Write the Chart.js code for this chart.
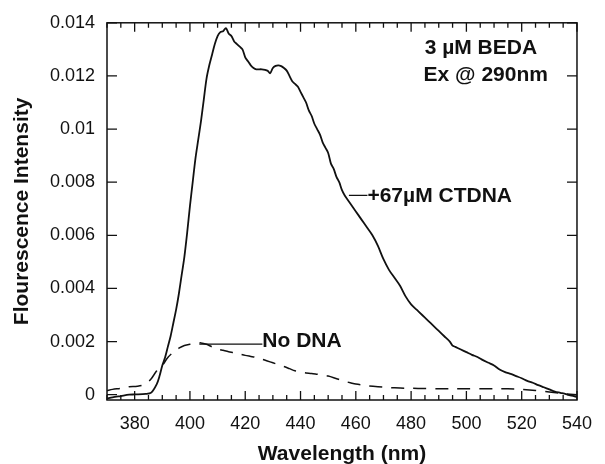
<!DOCTYPE html>
<html><head><meta charset="utf-8">
<script src="https://cdn.jsdelivr.net/npm/chart.js@4/dist/chart.umd.min.js"></script>
<style>html,body{margin:0;padding:0;overflow:hidden;background:#fff}canvas{display:block}</style>
</head><body>
<canvas id="c" width="605" height="470"></canvas>
<script>
// ---- data ----
const ctdnaWavelengths = [370,372,375,378,380,384,386,388,389,390,391,392,393,394,395,396,397,398,399,400,401,402,403,404,405,406,407,408,409,410,411,412,413,414,415,416,417,418,419,420,421,422,423,424,426,428,429,430,431,432,433,434,435,436,437,438,439,440,441,442,443,444,445,446,447,448,449,450,451,452,453,454,455,456,458,460,462,464,466,468,470,472,474,476,478,480,482,484,486,488,490,492,494,495,496,498,500,502,504,506,508,510,512,514,516,518,520,522,524,526,528,530,532,534,536,538,540];
const ctdnaIntensity = [-0.00015,-0.0001,-0.00005,0,0.00001,0.00003,0.00008,0.0004,0.0007,0.0011,0.0014,0.0018,0.0022,0.0027,0.0032,0.0038,0.0045,0.0052,0.0061,0.0071,0.0080,0.0089,0.0096,0.0103,0.0111,0.0119,0.0124,0.0128,0.0132,0.0135,0.01365,0.01368,0.0138,0.0136,0.0135,0.0133,0.0132,0.0131,0.0130,0.0127,0.01255,0.0124,0.0123,0.01225,0.01225,0.0122,0.0121,0.0123,0.01238,0.0124,0.01237,0.0123,0.0122,0.0120,0.0118,0.0117,0.0116,0.0114,0.0112,0.0110,0.0107,0.0105,0.0102,0.0100,0.0098,0.0095,0.0093,0.0091,0.0087,0.0085,0.0082,0.0080,0.0077,0.0075,0.0072,0.0069,0.0066,0.0063,0.0060,0.0056,0.0051,0.0047,0.0044,0.0041,0.0037,0.0034,0.0032,0.0030,0.0028,0.0026,0.0024,0.0022,0.0020,0.00185,0.0018,0.0017,0.0016,0.0015,0.00142,0.0013,0.0012,0.0011,0.00095,0.00085,0.00078,0.0007,0.00062,0.00052,0.00045,0.00036,0.00028,0.0002,0.00012,0.00007,0.00002,-0.00004,-0.00008];

const noDnaWavelengths = [370,372,375,378,381,384,386,388,390,392,394,396,398,400,402,404,406,408,410,412,414,416,418,420,422,424,426,428,430,432,434,436,438,440,442,444,446,448,450,452,454,456,458,460,464,468,472,476,480,485,490,495,500,505,510,515,520,525,530,535,540];
const noDnaIntensity = [0.00015,0.0002,0.00024,0.0003,0.00032,0.0004,0.0006,0.0009,0.0011,0.0014,0.0016,0.00175,0.00185,0.0019,0.00193,0.00195,0.0019,0.0018,0.00172,0.00167,0.00162,0.00158,0.00153,0.00148,0.00144,0.0014,0.00134,0.00127,0.0012,0.00113,0.00106,0.00098,0.0009,0.00085,0.00082,0.0008,0.00077,0.00074,0.0007,0.00064,0.00057,0.0005,0.00045,0.0004,0.00034,0.0003,0.00027,0.00025,0.00024,0.00023,0.00022,0.00022,0.00022,0.00022,0.00022,0.00022,0.0002,0.00016,0.0001,0.00004,0];

const xTickValues = [380,400,420,440,460,480,500,520,540];
const yTickValues = [0,0.002,0.004,0.006,0.008,0.01,0.012,0.014];
const xMinorStep = 5;

const xTitle = 'Wavelength (nm)';
const yTitle = 'Flourescence Intensity';

// annotation texts anchored in data units
const labelTexts = ['3 µM BEDA', 'Ex @ 290nm', '+67µM CTDNA', 'No DNA'];
const labelX = [484.9, 484.5, 464.2, 426.2];
const labelY = [0.01284, 0.01181, 0.00726, 0.0018];
const leaderX1 = [457.5, 403.4];
const leaderX2 = [464.2, 426.2];
const leaderY = [0.0075, 0.0019];

const FONT = '"Liberation Sans", Arial, Helvetica, sans-serif';
Chart.defaults.font.family = FONT;
Chart.defaults.color = '#111';

const toPts = (xs, ys) => xs.map((v, i) => ({x: v, y: ys[i]}));

const framePlugin = {
  id: 'frameTicksLabels',
  afterDatasetsDraw(chart) {
    const {ctx, chartArea: a, scales: {x, y}} = chart;
    ctx.save();
    ctx.strokeStyle = '#111';
    ctx.lineWidth = 1.5;
    ctx.strokeRect(a.left, a.top, a.right - a.left, a.bottom - a.top);
    ctx.lineWidth = 1.3;
    ctx.beginPath();
    for (let v = x.min; v <= x.max + 1e-9; v += xMinorStep) {
      const px = x.getPixelForValue(v);
      const len = xTickValues.includes(v) ? 9 : 5;
      ctx.moveTo(px, a.bottom); ctx.lineTo(px, a.bottom - len);
      ctx.moveTo(px, a.top); ctx.lineTo(px, a.top + len);
    }
    for (const v of yTickValues) {
      const py = y.getPixelForValue(v);
      ctx.moveTo(a.left, py); ctx.lineTo(a.left + 10, py);
      ctx.moveTo(a.right, py); ctx.lineTo(a.right - 10, py);
    }
    ctx.stroke();
    // leader lines
    ctx.lineWidth = 1.3;
    ctx.beginPath();
    for (let i = 0; i < leaderY.length; i++) {
      const py = y.getPixelForValue(leaderY[i]);
      ctx.moveTo(x.getPixelForValue(leaderX1[i]), py);
      ctx.lineTo(x.getPixelForValue(leaderX2[i]), py);
    }
    ctx.stroke();
    // labels
    ctx.fillStyle = '#111';
    ctx.font = 'bold 21px ' + FONT;
    ctx.textAlign = 'left';
    ctx.textBaseline = 'alphabetic';
    for (let i = 0; i < labelTexts.length; i++) {
      ctx.fillText(labelTexts[i], x.getPixelForValue(labelX[i]), y.getPixelForValue(labelY[i]));
    }
    ctx.restore();
  }
};

new Chart(document.getElementById('c'), {
  type: 'line',
  data: {
    datasets: [
      {label: '+67µM CTDNA', data: toPts(ctdnaWavelengths, ctdnaIntensity), borderColor: '#111', borderWidth: 1.8, pointRadius: 0, tension: 0.3, fill: false},
      {label: 'No DNA', data: toPts(noDnaWavelengths, noDnaIntensity), borderColor: '#111', borderWidth: 1.5, borderDash: [13, 9], pointRadius: 0, tension: 0.3, fill: false}
    ]
  },
  options: {
    responsive: false,
    animation: false,
    devicePixelRatio: 1,
    layout: {padding: {top: 21, right: 20, left: 0, bottom: 0}},
    plugins: {legend: {display: false}, tooltip: {enabled: false}},
    scales: {
      x: {
        type: 'linear', min: 370, max: 540,
        grid: {display: false, drawTicks: false},
        border: {display: false},
        ticks: {font: {size: 18}, padding: 13, color: '#111', maxRotation: 0, autoSkip: false},
        afterBuildTicks: s => { s.ticks = xTickValues.map(v => ({value: v})); },
        afterFit: s => { s.height = 70; },
        title: {display: true, text: xTitle, font: {size: 21, weight: 'bold'}, lineHeight: 1, padding: {top: 0, bottom: 3}, color: '#111'}
      },
      y: {
        type: 'linear', min: -0.0002, max: 0.014,
        grid: {display: false, drawTicks: false},
        border: {display: false},
        ticks: {font: {size: 18}, padding: 12, color: '#111', callback: v => String(+v.toFixed(4))},
        afterBuildTicks: s => { s.ticks = yTickValues.map(v => ({value: v})); },
        afterFit: s => { s.width = 107; },
        title: {display: true, text: yTitle, font: {size: 21, weight: 'bold'}, lineHeight: 1, padding: {top: 10, bottom: 0}, color: '#111'}
      }
    }
  },
  plugins: [framePlugin]
});
</script>
</body></html>
